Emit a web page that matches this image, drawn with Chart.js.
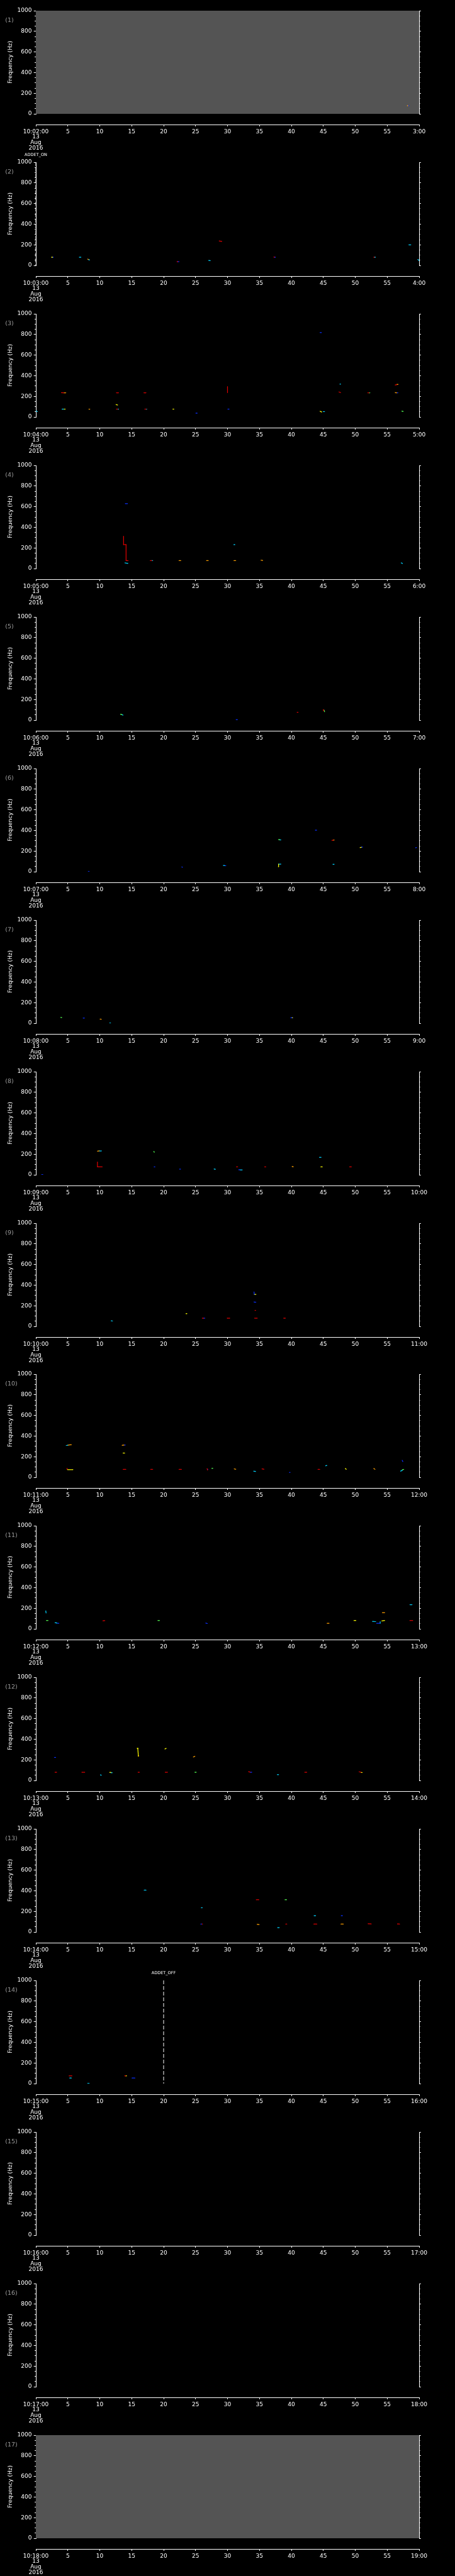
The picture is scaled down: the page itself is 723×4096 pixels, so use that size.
<!DOCTYPE html>
<html>
<head>
<meta charset="utf-8">
<script src="https://cdn.jsdelivr.net/npm/chart.js@4.4.1/dist/chart.umd.min.js"></script>
<style>
  html, body { margin: 0; padding: 0; background: #000; }
  body { width: 723px; height: 4096px; position: relative; overflow: hidden; }
  .panel { position: absolute; left: 0; width: 723px; height: 241px; }
</style>
</head>
<body>
<script>
// ===== DATA =====
const startLabels = ['10:02:00', '10:03:00', '10:04:00', '10:05:00', '10:06:00', '10:07:00', '10:08:00', '10:09:00',
  '10:10:00', '10:11:00', '10:12:00', '10:13:00', '10:14:00', '10:15:00', '10:16:00', '10:17:00', '10:18:00'];
const endLabels = ['3:00', '4:00', '5:00', '6:00', '7:00', '8:00', '9:00', '10:00',
  '11:00', '12:00', '13:00', '14:00', '15:00', '16:00', '17:00', '18:00', '19:00'];
const dateLines = ['13', 'Aug', '2016'];
const greyPanels = [1, 17];
const eventPanels = [2, 14];
const eventTimes = [0, 20];
const eventLabels = ['ADDET_ON', 'ADDET_OFF'];

// tracks: [t0 (s), f0 (Hz), t1 (s), f1 (Hz), colour]
const panel1 = [[58.15, 79, 58.25, 79, 'o'], [58.25, 79, 58.4, 79, 'b']];
const panel2 = [
  [2.45, 79, 2.6, 79, 'y'], [2.6, 79, 2.75, 79, 'b'], [6.8, 79, 7.05, 79, 'c'],
  [8.1, 61, 8.25, 58, 'o'], [8.25, 56, 8.4, 53, 'c'], [22.1, 36, 22.2, 36, 'r'], [22.2, 36, 22.4, 36, 'b'],
  [27.05, 48, 27.3, 46, 'c'], [28.7, 237, 29.1, 233, 'r'], [37.25, 81, 37.35, 81, 'r'], [37.35, 79, 37.5, 79, 'b'],
  [52.9, 79, 53.0, 79, 'r'], [53.0, 79, 53.15, 79, 'c'], [58.4, 199, 58.7, 199, 'c'], [59.8, 58, 60, 47, 'c']
];
const panel3 = [
  [0.05, 58, 0.25, 52, 'c'], [4.0, 235, 4.35, 234, 'r'], [4.35, 234, 4.7, 234, 'o'],
  [4.1, 76, 4.35, 76, 'c'], [4.4, 76, 4.6, 76, 'y'], [8.3, 76, 8.45, 76, 'o'],
  [12.6, 234, 12.95, 234, 'r'], [12.55, 120, 12.8, 116, 'y'], [12.6, 76, 12.8, 76, 'r'], [12.8, 76, 12.95, 76, 'c'],
  [16.9, 234, 17.25, 234, 'r'], [17.05, 76, 17.25, 76, 'r'], [17.25, 76, 17.35, 76, 'c'],
  [21.45, 76, 21.6, 76, 'y'], [25.05, 37, 25.25, 37, 'b'], [30.0, 294, 30.0, 234, 'r'], [30.05, 76, 30.25, 76, 'b'],
  [44.5, 818, 44.7, 818, 'b'], [44.5, 55, 44.75, 48, 'y'], [45.0, 52, 45.2, 52, 'c'],
  [47.6, 319, 47.7, 319, 'c'], [47.45, 242, 47.7, 236, 'r'], [51.95, 234, 52.15, 234, 'r'], [52.15, 234, 52.3, 234, 'g'],
  [56.25, 310, 56.5, 313, 'r'], [56.5, 315, 56.7, 316, 'o'], [56.25, 236, 56.5, 234, 'o'], [56.5, 234, 56.7, 234, 'b'],
  [57.3, 56, 57.5, 54, 'g']
];
const panel4 = [
  [13.73, 313, 13.73, 232, 'r'], [13.73, 232, 14.12, 232, 'r'], [14.12, 232, 14.12, 77, 'r'], [14.12, 77, 14.45, 77, 'r'],
  [14.0, 629, 14.35, 629, 'b'], [13.95, 55, 14.4, 50, 'c'], [17.9, 77, 18.15, 77, 'r'], [18.15, 77, 18.3, 77, 'c'],
  [22.4, 77, 22.7, 77, 'o'], [26.7, 77, 27.0, 77, 'o'], [31.0, 77, 31.3, 77, 'o'], [31.0, 232, 31.15, 232, 'c'],
  [35.25, 81, 35.5, 78, 'o'], [57.2, 55, 57.4, 49, 'c']
];
const panel5 = [
  [13.25, 57, 13.45, 53, 'g'], [13.45, 53, 13.65, 48, 'c'], [31.35, 4, 31.55, 4, 'b'], [40.9, 76, 41.05, 76, 'r'],
  [45.0, 102, 45.05, 90, 'r'], [45.1, 98, 45.2, 81, 'g']
];
const panel6 = [
  [8.2, 2, 8.35, 2, 'b'], [22.85, 46, 22.95, 42, 'b'], [29.35, 60, 29.55, 60, 'c'], [29.55, 58, 29.75, 58, 'b'],
  [37.95, 48, 38.0, 73, 'y'], [38.0, 73, 38.35, 73, 'c'], [38.0, 311, 38.15, 311, 'g'], [38.15, 308, 38.35, 308, 'c'],
  [43.75, 402, 43.95, 402, 'b'], [46.35, 303, 46.55, 306, 'r'], [46.55, 307, 46.7, 307, 'o'], [46.5, 71, 46.7, 71, 'c'],
  [50.75, 233, 50.95, 236, 'y'], [50.95, 238, 51.15, 238, 'b'], [59.45, 232, 59.6, 234, 'b']
];
const panel7 = [
  [3.9, 57, 4.05, 55, 'g'], [7.4, 50, 7.6, 50, 'b'], [10.05, 40, 10.25, 38, 'o'], [11.55, 2, 11.7, 2, 'c'],
  [39.9, 53, 40.1, 53, 'b'], [40.1, 53, 40.2, 53, 'y']
];
const panel8 = [
  [0.9, 2, 1.1, 2, 'b'], [9.64, 123, 9.64, 77, 'r'], [9.64, 77, 10.4, 77, 'r'],
  [9.64, 229, 9.9, 231, 'o'], [9.9, 231, 10.26, 231, 'c'], [18.45, 226, 18.55, 219, 'g'], [18.5, 77, 18.65, 77, 'b'],
  [22.5, 55, 22.65, 55, 'b'], [27.9, 56, 28.1, 54, 'c'], [31.4, 77, 31.6, 77, 'r'],
  [31.75, 49, 31.95, 49, 'b'], [31.95, 47, 32.3, 47, 'c'], [35.8, 77, 36.0, 77, 'r'], [40.1, 80, 40.3, 78, 'o'],
  [44.4, 169, 44.65, 169, 'c'], [44.6, 77, 44.85, 77, 'y'], [49.1, 77, 49.4, 77, 'r']
];
const panel9 = [
  [11.8, 54, 12.0, 52, 'c'], [23.5, 123, 23.65, 123, 'y'], [26.05, 79, 26.25, 79, 'r'], [26.25, 79, 26.45, 79, 'b'],
  [29.95, 79, 30.35, 79, 'r'], [34.15, 334, 34.2, 310, 'b'], [34.2, 310, 34.45, 310, 'y'],
  [34.15, 236, 34.45, 234, 'b'], [34.3, 155, 34.4, 155, 'r'], [34.25, 79, 34.65, 79, 'r'], [38.8, 79, 39.05, 79, 'r']
];
const panel10 = [
  [4.75, 308, 5.0, 311, 'c'], [5.0, 312, 5.55, 316, 'o'], [4.88, 87, 4.88, 77, 'r'], [4.95, 74, 5.8, 74, 'y'],
  [13.5, 310, 13.8, 313, 'o'], [13.8, 313, 14.0, 313, 'b'], [13.65, 235, 13.9, 235, 'y'], [13.65, 77, 14.1, 77, 'r'],
  [17.95, 77, 18.3, 77, 'r'], [22.4, 77, 22.8, 77, 'r'], [26.8, 84, 26.85, 77, 'r'], [26.85, 77, 26.95, 77, 'b'],
  [27.55, 87, 27.7, 87, 'g'], [31.05, 82, 31.3, 78, 'o'], [34.1, 59, 34.4, 57, 'c'], [35.4, 82, 35.7, 78, 'r'],
  [39.7, 47, 39.8, 47, 'b'], [44.15, 77, 44.45, 77, 'r'], [45.35, 112, 45.55, 115, 'c'], [48.45, 85, 48.6, 77, 'y'],
  [52.9, 86, 53.1, 77, 'o'], [57.35, 165, 57.45, 153, 'b'], [57.1, 60, 57.35, 66, 'c'], [57.35, 72, 57.6, 77, 'g']
];
const panel11 = [
  [1.55, 174, 1.6, 154, 'c'], [1.65, 81, 1.9, 81, 'g'], [3.0, 60, 3.3, 57, 'c'], [3.3, 55, 3.6, 54, 'b'],
  [10.5, 78, 10.8, 80, 'r'], [19.1, 81, 19.35, 81, 'g'], [26.6, 56, 26.85, 52, 'b'], [45.6, 54, 45.9, 54, 'o'],
  [49.8, 81, 50.1, 81, 'y'], [52.7, 72, 53.2, 70, 'c'], [53.35, 54, 53.85, 54, 'b'], [53.9, 54, 53.9, 68, 'c'],
  [54.15, 77, 54.6, 81, 'y'], [54.25, 157, 54.6, 157, 'o'], [58.55, 234, 58.9, 234, 'c'], [58.55, 81, 59.0, 81, 'r']
];
const panel12 = [
  [2.9, 223, 3.1, 223, 'b'], [3.0, 79, 3.25, 79, 'r'], [7.2, 79, 7.65, 79, 'r'], [10.1, 54, 10.25, 50, 'c'],
  [11.55, 78, 11.75, 78, 'y'], [11.75, 75, 11.95, 75, 'c'], [15.85, 311, 16.0, 311, 'y'], [15.95, 311, 16.05, 237, 'y'],
  [16.0, 237, 16.1, 237, 'o'], [16.0, 79, 16.2, 79, 'r'], [20.2, 305, 20.4, 311, 'y'], [20.25, 79, 20.6, 79, 'r'],
  [24.65, 227, 24.9, 234, 'o'], [24.9, 79, 25.1, 79, 'g'], [33.3, 85, 33.55, 81, 'r'], [33.55, 79, 33.8, 79, 'b'],
  [37.8, 56, 38.0, 56, 'c'], [42.1, 79, 42.4, 79, 'r'], [50.6, 84, 50.9, 79, 'r'], [50.9, 77, 51.1, 77, 'y']
];
const panel13 = [
  [16.95, 406, 17.25, 406, 'c'], [25.8, 77, 25.95, 77, 'b'], [25.95, 77, 26.1, 77, 'r'], [25.9, 235, 26.05, 235, 'c'],
  [34.5, 313, 34.9, 313, 'r'], [34.65, 74, 34.95, 72, 'o'], [37.85, 42, 38.1, 42, 'c'], [39.0, 313, 39.25, 313, 'g'],
  [39.1, 77, 39.3, 77, 'r'], [43.55, 158, 43.8, 158, 'c'], [43.5, 77, 44.0, 77, 'r'], [47.8, 158, 48.0, 158, 'b'],
  [47.75, 77, 48.15, 77, 'o'], [52.0, 80, 52.5, 78, 'r'], [56.6, 78, 56.95, 77, 'r']
];
const panel14 = [
  [5.2, 75, 5.65, 75, 'r'], [5.3, 54, 5.55, 54, 'c'], [8.1, 2, 8.35, 2, 'c'],
  [13.9, 75, 14.05, 75, 'r'], [14.05, 75, 14.2, 75, 'y'], [15.05, 54, 15.5, 54, 'b']
];
const panel15 = [];
const panel16 = [];
const panel17 = [];
const panelTracks = [panel1, panel2, panel3, panel4, panel5, panel6, panel7, panel8, panel9,
  panel10, panel11, panel12, panel13, panel14, panel15, panel16, panel17];

const palette = { b: '#0b30ff', c: '#00d4ff', g: '#55ff55', y: '#ffff00', o: '#ffa000', r: '#e00000' };

// ===== DRAWING =====
const SLOT = 4096 / 17;
const FONT = 'DejaVu Sans';

function decorPlugin(k) {
  return {
    id: 'decor' + k,
    beforeDatasetsDraw(chart) {
      if (!greyPanels.includes(k)) return;
      const { x, y } = chart.scales;
      const ctx = chart.ctx;
      const x0 = x.getPixelForValue(0), x1 = x.getPixelForValue(60);
      const y0 = y.getPixelForValue(1000), y1 = y.getPixelForValue(0);
      ctx.save();
      ctx.fillStyle = '#545454';
      ctx.fillRect(x0, y0, x1 - x0, y1 - y0);
      ctx.restore();
    },
    afterDraw(chart) {
      const { x, y } = chart.scales;
      const ctx = chart.ctx;
      ctx.save();
      ctx.fillStyle = '#9b9b9b';
      ctx.font = '9.5px "' + FONT + '"';
      ctx.textBaseline = 'middle';
      ctx.textAlign = 'left';
      ctx.fillText('(' + k + ')', 8.2, chart.chartArea.top + 16);
      eventPanels.forEach((p, i) => {
        if (p !== k) return;
        const px = x.getPixelForValue(eventTimes[i]);
        ctx.strokeStyle = '#fff';
        ctx.lineWidth = 1;
        ctx.setLineDash([6, 3]);
        ctx.beginPath();
        ctx.moveTo(px, y.getPixelForValue(1000));
        ctx.lineTo(px, y.getPixelForValue(0));
        ctx.stroke();
        ctx.setLineDash([]);
        ctx.fillStyle = '#fff';
        ctx.font = '6.5px "' + FONT + '"';
        ctx.textAlign = 'center';
        ctx.fillText(eventLabels[i], px, y.getPixelForValue(1000) - 12);
      });
      ctx.restore();
    }
  };
}

function makeChart(idx) {
  const k = idx + 1;
  const wrap = document.createElement('div');
  wrap.className = 'panel';
  wrap.style.top = Math.round(idx * SLOT) + 'px';
  const canvas = document.createElement('canvas');
  canvas.width = 723;
  canvas.height = 241;
  wrap.appendChild(canvas);
  document.body.appendChild(wrap);

  const datasets = panelTracks[idx].map(tr => ({
    data: [{ x: tr[0], y: tr[1] }, { x: tr[2], y: tr[3] }],
    showLine: true,
    borderColor: palette[tr[4]],
    backgroundColor: palette[tr[4]],
    borderWidth: 1.2,
    pointRadius: 0.7,
    pointBorderWidth: 0,
    pointStyle: 'rect',
    xAxisID: 'x',
    yAxisID: 'y'
  }));

  const tickFont = { family: FONT, size: 9, lineHeight: 0.97 };

  new Chart(canvas, {
    type: 'scatter',
    data: { datasets },
    options: {
      responsive: false,
      animation: false,
      devicePixelRatio: 1,
      layout: { padding: { left: 0, right: 57, top: 17, bottom: 0 } },
      plugins: { legend: { display: false }, tooltip: { enabled: false } },
      scales: {
        x: {
          type: 'linear', position: 'bottom', weight: 1, min: 0, max: 60,
          ticks: {
            stepSize: 5, autoSkip: false, maxRotation: 0, minRotation: 0, color: '#fff', font: tickFont, padding: 4,
            callback: v => v === 0 ? [startLabels[idx], ...dateLines] : (v === 60 ? endLabels[idx] : String(v))
          },
          grid: { drawOnChartArea: false, tickLength: 3, color: '#fff' },
          border: { display: true, color: '#fff', width: 1 },
          afterFit: s => { s.height = 43; }
        },
        xGap: {
          type: 'linear', position: 'bottom', weight: 0, min: 0, max: 60,
          ticks: { display: false }, grid: { display: false }, border: { display: false },
          afterFit: s => { s.height = 17; }
        },
        y: {
          type: 'linear', position: 'left', weight: 1, min: 0, max: 1000,
          ticks: { stepSize: 200, autoSkip: false, color: '#fff', font: tickFont, padding: 3.2, callback: v => String(v) },
          grid: { drawOnChartArea: false, tickLength: 3.3, color: '#fff' },
          border: { display: true, color: '#fff', width: 1 },
          title: { display: true, text: 'Frequency (Hz)', color: '#fff', font: { family: FONT, size: 9 }, padding: { top: 11, bottom: 0 } },
          afterFit: s => { s.width = 57; }
        },
        yMinor: {
          type: 'linear', position: 'left', weight: 0, min: 0, max: 1000,
          ticks: { stepSize: 50, display: false, maxTicksLimit: 30 },
          grid: { drawOnChartArea: false, tickLength: 1.9, color: '#fff' },
          border: { display: false },
          afterFit: s => { s.width = 0; }
        },
        y2: {
          type: 'linear', position: 'right', weight: 0, min: 0, max: 1000,
          ticks: { stepSize: 200, display: false },
          grid: { drawOnChartArea: false, tickLength: 2.8, color: '#fff' },
          border: { display: true, color: '#fff', width: 1 },
          afterFit: s => { s.width = 0; }
        },
        y2Minor: {
          type: 'linear', position: 'right', weight: 1, min: 0, max: 1000,
          ticks: { stepSize: 50, display: false, maxTicksLimit: 30 },
          grid: { drawOnChartArea: false, tickLength: 1.6, color: '#fff' },
          border: { display: false },
          afterFit: s => { s.width = 0; }
        }
      }
    },
    plugins: [decorPlugin(k)]
  });
}

for (let i = 0; i < panelTracks.length; i++) makeChart(i);
</script>
</body>
</html>
